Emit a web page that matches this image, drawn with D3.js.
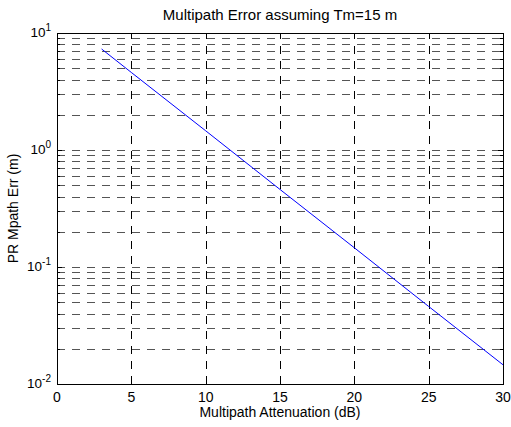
<!DOCTYPE html>
<html>
<head>
<meta charset="utf-8">
<script src="https://cdn.jsdelivr.net/npm/d3@7"></script>
<style>
  body { margin: 0; background: #fff; }
  text { font-family: "Liberation Sans", Arial, sans-serif; fill: #000; }
</style>
</head>
<body>
<svg id="chart" width="511" height="427"></svg>
<script>
// Data
const attenDb = [3, 5, 10, 15, 20, 25, 30];
const mpathErr = [7.3, 4.6, 1.46, 0.46, 0.146, 0.046, 0.0146];
const xTicks = [0, 5, 10, 15, 20, 25, 30];
const yDecades = [-2, -1, 0, 1];

const width = 511;
const height = 427;
const margin = { top: 33, right: 8, bottom: 43, left: 57 };

const svg = d3.select("#chart");

const x = d3.scaleLinear().domain([0, 30]).range([margin.left, width - margin.right]);
const y = d3.scaleLog().domain([0.01, 10]).range([height - margin.bottom, margin.top]);

const x0 = x.range()[0], x1 = x.range()[1];
const y0 = y.range()[0], y1 = y.range()[1];

// minor + major log values
const logVals = [];
for (let e = -2; e < 1; e++) {
  for (let m = 1; m <= 9; m++) logVals.push(m * Math.pow(10, e));
}
const innerLog = logVals.filter(v => v > 0.01 && v < 10);

// Grid
const grid = svg.append("g").attr("shape-rendering", "crispEdges");
grid.selectAll("line.h")
  .data(innerLog)
  .enter().append("line")
  .attr("class", "h")
  .attr("x1", x0).attr("x2", x1)
  .attr("y1", d => Math.round(y(d)) + 0.5).attr("y2", d => Math.round(y(d)) + 0.5)
  .attr("stroke", "#555")
  .attr("stroke-dasharray", "8,7");

grid.selectAll("line.v")
  .data(xTicks.filter(d => d > 0 && d < 30))
  .enter().append("line")
  .attr("class", "v")
  .attr("x1", d => Math.round(x(d)) + 0.5).attr("x2", d => Math.round(x(d)) + 0.5)
  .attr("y1", y0).attr("y2", y1)
  .attr("stroke", "#000")
  .attr("stroke-dasharray", "8,7");

// Ticks (inward, all sides)
const ticks = svg.append("g").attr("stroke", "#000").attr("shape-rendering", "crispEdges");
logVals.concat([10]).forEach(v => {
  const yy = Math.round(y(v)) + 0.5;
  const len = Math.abs(Math.log10(v) - Math.round(Math.log10(v))) < 1e-9 ? 5 : 3;
  ticks.append("line").attr("x1", x0).attr("x2", x0 + len).attr("y1", yy).attr("y2", yy);
  ticks.append("line").attr("x1", x1).attr("x2", x1 - len).attr("y1", yy).attr("y2", yy);
});
xTicks.forEach(v => {
  const xx = Math.round(x(v)) + 0.5;
  ticks.append("line").attr("x1", xx).attr("x2", xx).attr("y1", y0).attr("y2", y0 - 5);
  ticks.append("line").attr("x1", xx).attr("x2", xx).attr("y1", y1).attr("y2", y1 + 5);
});

// Data line
const line = d3.line().x(d => x(d[0])).y(d => y(d[1]));
svg.append("path")
  .datum(attenDb.map((d, i) => [d, mpathErr[i]]))
  .attr("d", line)
  .attr("fill", "none")
  .attr("stroke", "#0000ff")
  .attr("stroke-width", 1);

// Box
svg.append("rect")
  .attr("x", x0 + 0.5).attr("y", y1 + 0.5)
  .attr("width", x1 - x0).attr("height", y0 - y1)
  .attr("fill", "none").attr("stroke", "#000")
  .attr("shape-rendering", "crispEdges");

// X tick labels
svg.selectAll("text.xt")
  .data(xTicks)
  .enter().append("text")
  .attr("x", d => x(d)).attr("y", y0 + 18)
  .attr("text-anchor", "middle")
  .style("font-size", "14px")
  .text(d => d);

// Y tick labels (10 with superscript exponent)
yDecades.forEach(e => {
  const t = svg.append("text")
    .attr("x", x0 - 6).attr("y", y(Math.pow(10, e)) + 4)
    .attr("text-anchor", "end")
    .style("font-size", "13.5px");
  t.append("tspan").text("10");
  t.append("tspan").attr("dy", -6).style("font-size", "10px").text(e);
});

// Labels
svg.append("text")
  .attr("x", (x0 + x1) / 2).attr("y", 20)
  .attr("text-anchor", "middle")
  .style("font-size", "15px")
  .text("Multipath Error assuming Tm=15 m");

svg.append("text")
  .attr("x", (x0 + x1) / 2).attr("y", 417)
  .attr("text-anchor", "middle")
  .style("font-size", "14px")
  .text("Multipath Attenuation (dB)");

svg.append("text")
  .attr("transform", `translate(18,${(y0 + y1) / 2}) rotate(-90)`)
  .attr("text-anchor", "middle")
  .style("font-size", "14px")
  .text("PR Mpath Err (m)");
</script>
</body>
</html>
